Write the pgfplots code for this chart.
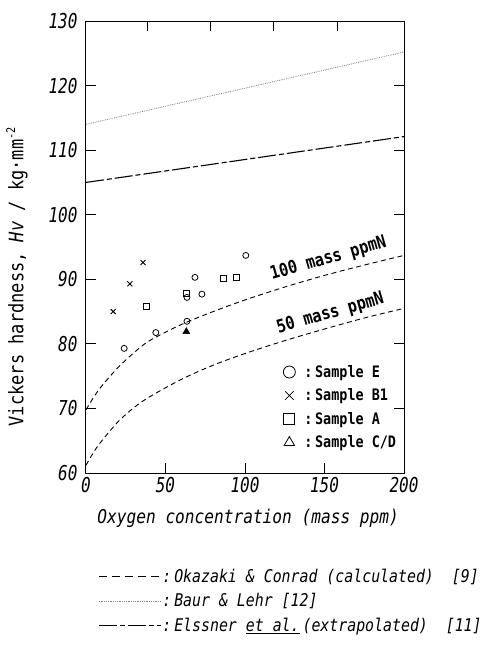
\documentclass[border=0pt]{standalone}
\usepackage{fontspec}
\setmainfont{DejaVu Sans Mono}[FakeStretch=0.85]
\newfontfamily\tickfont{DejaVu Sans Mono}[FakeStretch=0.78]
\usepackage{pgfplots}
\pgfplotsset{compat=1.18}
\begin{document}
\begin{tikzpicture}[x=1pt,y=1pt]
\path[use as bounding box] (0,0) rectangle (481,649);
\begin{axis}[
  at={(86pt,176pt)}, anchor=south west,
  scale only axis, width=318pt, height=452pt,
  xmin=0, xmax=200, ymin=60, ymax=130,
  xtick={0,50,...,200}, ytick={60,70,...,130},
  xtick pos=left, ytick pos=both,
  tick align=inside, major tick length=10pt,
  axis line style={line width=1pt},
  every tick/.style={line width=1pt, black},
  /pgf/number format/assume math mode=true,
  ticklabel style={font=\tickfont\itshape\fontsize{20.5}{22}\selectfont},
  yticklabel style={xshift=-5pt},
  xticklabel style={yshift=-1pt},
  xlabel={Oxygen concentration (mass ppm)},
  xlabel style={font=\itshape\fontsize{19}{22}\selectfont, at={(axis description cs:0.51,-0.0996)}, anchor=center},
  ylabel={Vickers hardness, \textit{Hv} / kg·mm\raisebox{0.75ex}{\fontsize{12}{12}\selectfont -2}},
  ylabel style={font=\fontsize{20}{22}\selectfont, at={(axis description cs:-0.217,0.434)}, anchor=center},
  legend style={draw=none, fill=none, at={(axis description cs:0.038,-0.209)}, anchor=north west,
    font=\itshape\fontsize{17.5}{20}\selectfont, row sep=8pt, inner sep=0pt, nodes={inner sep=1pt}},
  legend cell align=left,
  legend image code/.code={\draw[#1] (0pt,0pt) -- (62pt,0pt);},
]
% Okazaki & Conrad, 100 mass ppmN
\addplot[black, line width=0.9pt, dash pattern=on 5pt off 3.5pt, smooth,
  legend image post style={dash pattern=on 8pt off 5pt}] coordinates {
  (0,69.8) (5,71.8) (10,73.5) (20,76.3) (30,78.6) (40,80.5) (60,83.0) (80,85.0)
  (100,86.8) (125,88.8) (150,90.6) (175,92.2) (200,93.7)};
\addlegendentry{:\,Okazaki \& Conrad (calculated)\ \ [9]}
% 50 mass ppmN
\addplot[black, line width=0.9pt, dash pattern=on 5pt off 3.5pt, smooth, forget plot] coordinates {
  (0,61.2) (5,63.3) (10,65.0) (20,67.9) (30,70.1) (40,71.8) (60,74.5) (80,76.7)
  (100,78.5) (125,80.5) (150,82.3) (175,84.0) (200,85.5)};
% Baur & Lehr
\addplot[gray, line width=0.8pt, densely dotted] coordinates {(0,114.0) (200,125.2)};
\addlegendentry{:\,Baur \& Lehr [12]}
% Elssner et al.
\addplot[black, line width=1.1pt, dash pattern=on 18pt off 3pt on 5pt off 3pt] coordinates {(0,105.0) (200,112.1)};
\addlegendentry{:\,Elssner \underline{et al.}\,(extrapolated)\ \ [11]}
% Sample E
\addplot[only marks, mark=o, mark size=3pt, black, line width=0.8pt, forget plot] coordinates {
  (24.0,79.3) (43.9,81.75) (63.5,83.5) (63.5,87.2) (68.5,90.3) (72.9,87.7) (100.5,93.7)};
% Sample B1
\addplot[only marks, mark=x, mark size=3.5pt, black, line width=0.9pt, forget plot] coordinates {
  (17.1,85.0) (27.6,89.3) (35.9,92.6)};
% Sample A
\addplot[only marks, mark=square, mark size=3pt, black, line width=0.8pt, forget plot] coordinates {
  (37.8,85.8) (63.1,87.85) (86.3,90.1) (94.5,90.3)};
% Sample C/D
\addplot[only marks, mark=triangle*, mark size=4pt, black, forget plot] coordinates {(63.1,81.9)};
\node[rotate=16, anchor=base west, inner sep=0pt, font=\bfseries\fontsize{18}{20}\selectfont] at (axis cs:117,89.9) {100 mass ppmN};
\node[rotate=16, anchor=base west, inner sep=0pt, font=\bfseries\fontsize{18}{20}\selectfont] at (axis cs:121,81.6) {50 mass ppmN};
\end{axis}
\begin{axis}[
  at={(86pt,176pt)}, anchor=south west,
  scale only axis, width=318pt, height=452pt,
  xmin=0, xmax=200, ymin=60, ymax=130,
  axis x line*=top, hide y axis,
  xtick={38.5,78,118,158}, xticklabels={},
  tick align=inside, major tick length=10pt,
  axis line style={line width=1pt},
  every tick/.style={line width=1pt, black},
  legend style={draw=none, fill=none, at={(axis description cs:0.62,0.241)}, anchor=north west,
    font=\bfseries\fontsize{15.8}{18}\selectfont, row sep=8pt, inner sep=0pt, nodes={inner sep=1pt}},
  legend cell align=left,
  legend image code/.code={\draw[#1] plot coordinates {(6pt,0pt)};},
]
\addlegendimage{only marks, mark=o, mark size=6pt, black, line width=0.8pt}
\addlegendentry{\ :\,Sample E}
\addlegendimage{only marks, mark=x, mark size=6pt, black, line width=0.8pt}
\addlegendentry{\ :\,Sample B1}
\addlegendimage{only marks, mark=square, mark size=5.5pt, black, line width=0.8pt}
\addlegendentry{\ :\,Sample A}
\addlegendimage{only marks, mark=triangle, mark size=6pt, black, line width=0.8pt}
\addlegendentry{\ :\,Sample C/D}
\end{axis}
\end{tikzpicture}
\end{document}
